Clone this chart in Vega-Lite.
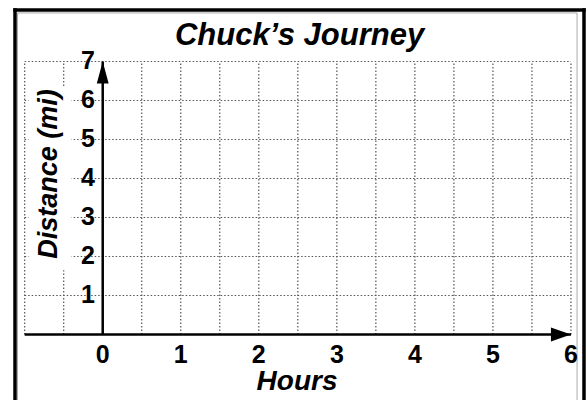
{
  "$schema": "https://vega.github.io/schema/vega-lite/v6.json",
  "autosize": {"type": "none"},
  "padding": {"left": 15, "top": 10, "right": 4, "bottom": 0},
  "width": 569,
  "height": 390,
  "background": "white",
  "title": {
    "text": "Chuck’s Journey",
    "font": "Liberation Sans",
    "fontSize": 31,
    "fontWeight": "bold",
    "fontStyle": "italic",
    "color": "black",
    "baseline": "alphabetic",
    "offset": -68,
    "anchor": "middle",
    "frame": "group"
  },
  "config": {
    "view": {"stroke": null, "fill": "white"},
    "text": {"font": "Liberation Sans", "fontWeight": "bold", "color": "black"}
  },
  "datasets": {
    "frame": [
      {"x": -1.124, "x2": -1.124, "y": -1.68, "y2": 8.32},
      {"x": -1.124, "x2": 6.167, "y": 8.32, "y2": 8.32},
      {"x": 6.167, "x2": 6.167, "y": -1.68, "y2": 8.32}
    ],
    "inner": [
      {"x": -1.092, "x2": -1.092, "y": -1.68, "y2": 8.244},
      {"x": -1.092, "x2": 6.078, "y": 8.244, "y2": 8.244},
      {"x": 6.078, "x2": 6.078, "y": -1.68, "y2": 8.244}
    ],
    "vgrid": [
      {"h": -1}, {"h": -0.5}, {"h": 0}, {"h": 0.5}, {"h": 1}, {"h": 1.5}, {"h": 2}, {"h": 2.5},
      {"h": 3}, {"h": 3.5}, {"h": 4}, {"h": 4.5}, {"h": 5}, {"h": 5.5}, {"h": 6}
    ],
    "hgrid": [
      {"d": 1}, {"d": 2}, {"d": 3}, {"d": 4}, {"d": 5}, {"d": 6}, {"d": 7}
    ],
    "axes": [
      {"x": -1, "x2": 6, "y": 0, "y2": 0},
      {"x": 0, "x2": 0, "y": 0, "y2": 7}
    ],
    "xticks": [{"v": 0}, {"v": 1}, {"v": 2}, {"v": 3}, {"v": 4}, {"v": 5}, {"v": 6}],
    "yticks": [{"v": 1}, {"v": 2}, {"v": 3}, {"v": 4}, {"v": 5}, {"v": 6}, {"v": 7}],
    "tipUp": [{"x": 0, "y": 7}],
    "tipRight": [{"x": 6, "y": 0}],
    "xtitle": [{"t": "Hours"}],
    "ytitle": [{"t": "Distance (mi)"}],
    "blank": [{"k": 1}]
  },
  "layer": [
    {
      "data": {"name": "vgrid"},
      "mark": {"type": "rule", "color": "#555555", "strokeDash": [1.5, 2], "strokeWidth": 1.2},
      "encoding": {
        "x": {"field": "h", "type": "quantitative",
              "scale": {"domain": [-1.124, 6.167], "nice": false, "zero": false}, "axis": null},
        "y": {"datum": 0, "type": "quantitative",
              "scale": {"domain": [-1.68, 8.32], "nice": false, "zero": false}, "axis": null},
        "y2": {"datum": 7}
      }
    },
    {
      "data": {"name": "hgrid"},
      "mark": {"type": "rule", "color": "#555555", "strokeDash": [1.5, 2], "strokeWidth": 1.2},
      "encoding": {
        "y": {"field": "d", "type": "quantitative", "axis": null},
        "x": {"datum": -1, "type": "quantitative", "axis": null},
        "x2": {"datum": 6}
      }
    },
    {
      "data": {"name": "blank"},
      "mark": {"type": "rect", "color": "white"},
      "encoding": {
        "x": {"datum": -0.95, "type": "quantitative", "axis": null},
        "x2": {"datum": -0.4},
        "y": {"datum": 1.65, "type": "quantitative", "axis": null},
        "y2": {"datum": 6.32}
      }
    },
    {
      "data": {"name": "inner"},
      "mark": {"type": "rule", "color": "#aaaaaa", "strokeWidth": 1},
      "encoding": {
        "x": {"field": "x", "type": "quantitative", "axis": null},
        "x2": {"field": "x2"},
        "y": {"field": "y", "type": "quantitative", "axis": null},
        "y2": {"field": "y2"}
      }
    },
    {
      "data": {"name": "frame"},
      "mark": {"type": "rule", "color": "black", "strokeWidth": 3.5, "strokeCap": "square"},
      "encoding": {
        "x": {"field": "x", "type": "quantitative", "axis": null},
        "x2": {"field": "x2"},
        "y": {"field": "y", "type": "quantitative", "axis": null},
        "y2": {"field": "y2"}
      }
    },
    {
      "data": {"name": "axes"},
      "mark": {"type": "rule", "color": "black", "strokeWidth": 2.5},
      "encoding": {
        "x": {"field": "x", "type": "quantitative", "axis": null},
        "x2": {"field": "x2"},
        "y": {"field": "y", "type": "quantitative", "axis": null},
        "y2": {"field": "y2"}
      }
    },
    {
      "data": {"name": "tipUp"},
      "mark": {"type": "point", "filled": true, "color": "black", "opacity": 1, "strokeWidth": 0,
               "shape": "M0,0L0.27,1L-0.27,1Z", "size": 1936},
      "encoding": {
        "x": {"field": "x", "type": "quantitative", "axis": null},
        "y": {"field": "y", "type": "quantitative", "axis": null}
      }
    },
    {
      "data": {"name": "tipRight"},
      "mark": {"type": "point", "filled": true, "color": "black", "opacity": 1, "strokeWidth": 0,
               "shape": "M0,0L-1,-0.35L-1,0.35Z", "size": 1600},
      "encoding": {
        "x": {"field": "x", "type": "quantitative", "axis": null},
        "y": {"field": "y", "type": "quantitative", "axis": null}
      }
    },
    {
      "data": {"name": "xticks"},
      "mark": {"type": "text", "fontSize": 25, "align": "center", "baseline": "alphabetic"},
      "encoding": {
        "x": {"field": "v", "type": "quantitative", "axis": null},
        "y": {"datum": -0.72, "type": "quantitative", "axis": null},
        "text": {"field": "v", "type": "quantitative"}
      }
    },
    {
      "data": {"name": "yticks"},
      "mark": {"type": "text", "fontSize": 25, "align": "right", "baseline": "middle"},
      "encoding": {
        "y": {"field": "v", "type": "quantitative", "axis": null},
        "x": {"datum": -0.099, "type": "quantitative", "axis": null},
        "text": {"field": "v", "type": "quantitative"}
      }
    },
    {
      "data": {"name": "xtitle"},
      "mark": {"type": "text", "fontSize": 28, "fontStyle": "italic", "align": "center", "baseline": "alphabetic"},
      "encoding": {
        "x": {"datum": 2.49, "type": "quantitative", "axis": null},
        "y": {"datum": -1.423, "type": "quantitative", "axis": null},
        "text": {"field": "t", "type": "nominal"}
      }
    },
    {
      "data": {"name": "ytitle"},
      "mark": {"type": "text", "fontSize": 27, "fontStyle": "italic", "align": "center", "baseline": "alphabetic", "angle": 270},
      "encoding": {
        "x": {"datum": -0.586, "type": "quantitative", "axis": null},
        "y": {"datum": 4.115, "type": "quantitative", "axis": null},
        "text": {"field": "t", "type": "nominal"}
      }
    }
  ]
}
